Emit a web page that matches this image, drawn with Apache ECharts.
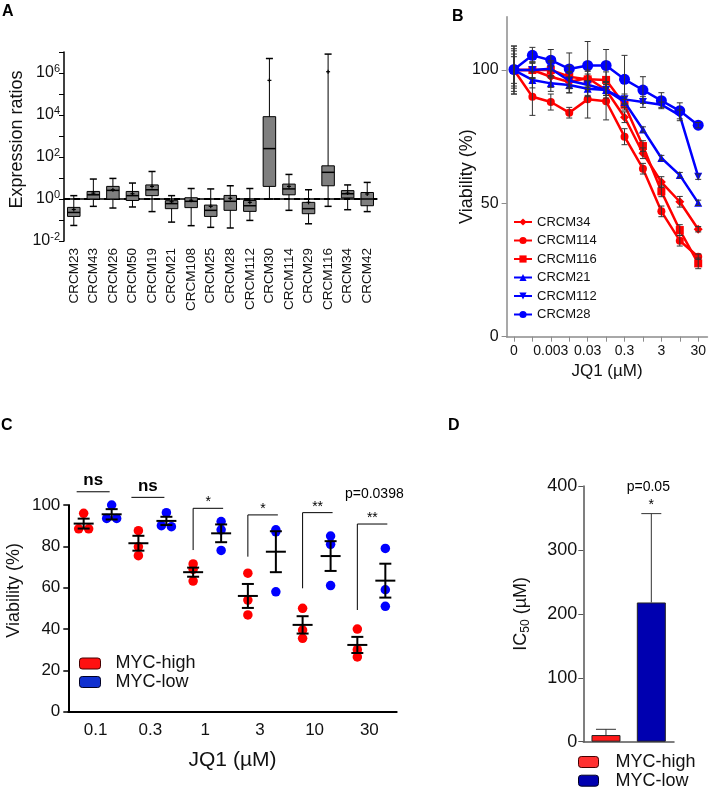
<!DOCTYPE html>
<html><head><meta charset="utf-8">
<script src="https://cdn.jsdelivr.net/npm/echarts@6/dist/echarts.min.js"></script>
<style>html,body{margin:0;padding:0;background:#fff}#c{width:709px;height:787px}</style>
</head><body><div id="c"></div>
<script>
// ---------------- Panel A: expression ratios (log10 units) ----------------
const cellLinesA = ['CRCM23','CRCM43','CRCM26','CRCM50','CRCM19','CRCM21','CRCM108','CRCM25','CRCM28','CRCM112','CRCM30','CRCM114','CRCM29','CRCM116','CRCM34','CRCM42'];
const log10WhiskerLow  = [-1.26,-0.35,-0.43,-0.38,-0.60,-1.10,-1.27,-1.35,-1.38,-1.02, 0.00,-0.54,-1.18,-0.35,-0.51,-0.60];
const log10Q1          = [-0.83, 0.00, 0.00,-0.07, 0.16,-0.46,-0.41,-0.83,-0.54,-0.59, 0.60, 0.20,-0.70, 0.63, 0.05,-0.32];
const log10Median      = [-0.64, 0.20, 0.41, 0.16, 0.44,-0.22,-0.11,-0.54,-0.11,-0.32, 2.40, 0.48,-0.46, 1.27, 0.25, 0.00];
const log10Q3          = [-0.40, 0.36, 0.60, 0.36, 0.67,-0.08, 0.06,-0.29, 0.17,-0.07, 3.92, 0.71,-0.16, 1.58, 0.40, 0.31];
const log10WhiskerHigh = [ 0.16, 0.95, 0.98, 0.76, 1.31, 0.16, 0.50, 0.48, 0.63, 0.50, 6.69, 1.17, 0.44, 6.90, 0.67, 0.79];
const log10Mean        = [-0.50, 0.28, 0.44, 0.25, 0.60,-0.13,-0.06,-0.35, 0.03,-0.16, 5.65, 0.60,-0.16, 6.06, 0.28, 0.24];
const referenceLog10 = 0; // ratio = 1

// ---------------- Panel B: viability curves ----------------
const dosesB = ['0','0.001','0.003','0.01','0.03','0.1','0.3','1','3','10','30'];
const labeledDosesB = ['0','0.003','0.03','0.3','3','30'];
const namesB = ['CRCM34','CRCM114','CRCM116','CRCM21','CRCM112','CRCM28'];
const viabCRCM34  = [100, 100, 97.5, 95.5, 97.0, 92.5, 82.3, 68.8, 58.0, 50.6, 40.3];
const viabCRCM114 = [100, 90.0, 88.0, 84.0, 89.0, 88.3, 75.0, 63.0, 47.0, 36.0, 30.0];
const viabCRCM116 = [100, 100, 100, 97.5, 96.5, 96.3, 87.0, 71.5, 54.5, 40.0, 27.5];
const viabCRCM21  = [100, 96.3, 95.0, 94.4, 93.0, 92.5, 88.0, 77.7, 67.0, 60.6, 50.2];
const viabCRCM112 = [100, 100, 100.5, 96.0, 94.5, 92.5, 89.0, 88.0, 87.0, 83.0, 60.0];
const viabCRCM28  = [100.2, 105.5, 103.7, 100.4, 101.7, 101.7, 96.5, 92.5, 88.5, 84.7, 79.3];
const errCRCM34  = [6, 3, 4, 4, 3, 3, 2, 2, 2, 2, 1];
const errCRCM114 = [9, 7, 3, 2, 7, 7, 3, 2, 2, 2, 1];
const errCRCM116 = [5, 3, 3, 4, 3, 3, 2, 2, 2, 2, 2];
const errCRCM21  = [8, 3, 3, 3, 3, 2, 2, 1, 1, 1, 1];
const errCRCM112 = [9, 3, 3, 3, 4, 2, 2, 2, 1, 2, 1];
const errCRCM28  = [7, 3, 4, 6, 9, 6, 9, 5, 3, 3, 1];

// ---------------- Panel C: viability by MYC group ----------------
const dosesC = ['0.1','0.3','1','3','10','30'];
const mycHighDots = [[96, 88.5, 88.5],[87.6, 79.8, 75.5],[71.5, 68.9, 63.2],[67, 54, 46.8],[50, 39.5, 35.5],[40, 30, 26.5]];
const mycLowDots  = [[100, 93.5, 93.5],[96.3, 90, 89.5],[92, 88, 78],[88, 87, 58],[85, 81, 61],[79, 59, 51]];
const mycHighMean = [91, 81.5, 67.5, 56, 42, 32.3];
const mycHighSem  = [2.4, 3.6, 2.2, 5.8, 4.2, 3.9];
const mycLowMean  = [95.5, 92.3, 86.3, 77.4, 75.3, 63.4];
const mycLowSem   = [2.5, 2.0, 4.3, 9.9, 7.2, 8.2];
const sigLabelsC  = ['ns','ns','*','*','**','**'];
const sigTopC     = [106.4, 103.7, 98.4, 95.2, 96.3, 90.8];
const sigBottomC  = [null, null, 78.2, 75.0, 59.7, 49.2];
const pNoteC = 'p=0.0398';

// ---------------- Panel D: IC50 ----------------
const groupsD = ['MYC-high','MYC-low'];
const ic50Mean = [10.4, 217.8];
const ic50Err  = [9.0, 139.0];
const pNoteD = 'p=0.05';

const FONT = '"Liberation Sans", Arial, Helvetica, sans-serif';
const RED = '#ff0000', BLUE = '#0000ff';

function renderBox(params, api) {
  const i = api.value(0);
  const lo = api.coord([i, api.value(1)]);
  const q1 = api.coord([i, api.value(2)]);
  const md = api.coord([i, api.value(3)]);
  const q3 = api.coord([i, api.value(4)]);
  const hi = api.coord([i, api.value(5)]);
  const mn = api.coord([i, api.value(6)]);
  const band = api.size([1, 0])[0];
  const bw = band * 0.64, cw = band * 0.36, x = lo[0];
  const s = {stroke:'#000', lineWidth:1};
  const s2 = {stroke:'#000', lineWidth:1.5};
  return {type:'group', children:[
    {type:'line', shape:{x1:x, y1:hi[1], x2:x, y2:lo[1]}, style:s},
    {type:'line', shape:{x1:x-cw/2, y1:hi[1], x2:x+cw/2, y2:hi[1]}, style:s2},
    {type:'line', shape:{x1:x-cw/2, y1:lo[1], x2:x+cw/2, y2:lo[1]}, style:s2},
    {type:'rect', shape:{x:x-bw/2, y:q3[1], width:bw, height:q1[1]-q3[1]}, style:{fill:'#7f7f7f', stroke:'#000', lineWidth:1}},
    {type:'line', shape:{x1:x-bw/2, y1:md[1], x2:x+bw/2, y2:md[1]}, style:s2},
    {type:'line', shape:{x1:x-2, y1:mn[1], x2:x+2, y2:mn[1]}, style:{stroke:'#000', lineWidth:1.2}},
    {type:'line', shape:{x1:x, y1:mn[1]-2, x2:x, y2:mn[1]+2}, style:{stroke:'#000', lineWidth:1.2}}
  ]};
}
function renderRefLine(params, api) {
  const cs = params.coordSys;
  const y = api.coord([0, api.value(1)])[1];
  return {type:'line', shape:{x1:cs.x, y1:y, x2:cs.x+cs.width, y2:y},
    style:{stroke:'#000', lineWidth:2, lineDash:[6,4]}};
}
function renderErrB(params, api) {
  const x = api.value(0), v = api.value(1), e = api.value(2);
  const t = api.coord([x, v+e]), b = api.coord([x, v-e]);
  const s = {stroke:'#333', lineWidth:1};
  return {type:'group', children:[
    {type:'line', shape:{x1:t[0], y1:t[1], x2:b[0], y2:b[1]}, style:s},
    {type:'line', shape:{x1:t[0]-3, y1:t[1], x2:t[0]+3, y2:t[1]}, style:s},
    {type:'line', shape:{x1:b[0]-3, y1:b[1], x2:b[0]+3, y2:b[1]}, style:s}
  ]};
}
function makeMeanSem(off) {
  return function(params, api) {
    const i = api.value(0), m = api.value(1), e = api.value(2);
    const c = api.coord([i, m]), t = api.coord([i, m+e]), b = api.coord([i, m-e]);
    const x = c[0] + off;
    const s = {stroke:'#000', lineWidth:2};
    return {type:'group', children:[
      {type:'line', shape:{x1:x-10, y1:c[1], x2:x+10, y2:c[1]}, style:s},
      {type:'line', shape:{x1:x, y1:t[1], x2:x, y2:b[1]}, style:s},
      {type:'line', shape:{x1:x-6, y1:t[1], x2:x+6, y2:t[1]}, style:s},
      {type:'line', shape:{x1:x-6, y1:b[1], x2:x+6, y2:b[1]}, style:s}
    ]};
  };
}
function renderSig(params, api) {
  const k = params.dataIndex;
  const i = api.value(0);
  const top = api.coord([i, api.value(1)]);
  const cx = top[0];
  const ch = [];
  const lab = sigLabelsC[k];
  if (sigBottomC[k] == null) {
    const x1 = cx - 19, x2 = cx + 14;
    ch.push({type:'line', shape:{x1:x1, y1:top[1], x2:x2, y2:top[1]}, style:{stroke:'#000', lineWidth:1}});
    ch.push({type:'text', style:{text:lab, x:(x1+x2)/2, y:top[1]-3, align:'center', verticalAlign:'bottom',
      font:'bold 17px ' + FONT, fill:'#000'}});
  } else {
    const bot = api.coord([i, sigBottomC[k]]);
    const x1 = cx - 12, x2 = cx + 18;
    ch.push({type:'polyline', shape:{points:[[x1, bot[1]],[x1, top[1]],[x2, top[1]]]}, style:{stroke:'#000', lineWidth:1, fill:null}});
    ch.push({type:'text', style:{text:lab, x:(x1+x2)/2, y:top[1]+1, align:'center', verticalAlign:'bottom',
      font:'14px ' + FONT, fill:'#000'}});
    if (k === sigLabelsC.length - 1) {
      ch.push({type:'text', style:{text:pNoteC, x:cx+5, y:top[1]-30, align:'center', verticalAlign:'middle',
        font:'14px ' + FONT, fill:'#000'}});
    }
  }
  return {type:'group', children:ch};
}
function renderErrD(params, api) {
  const i = api.value(0), m = api.value(1), e = api.value(2);
  const b = api.coord([i, m]), t = api.coord([i, m+e]);
  const s = {stroke:'#333', lineWidth:1};
  const ch = [
    {type:'line', shape:{x1:b[0], y1:b[1], x2:t[0], y2:t[1]}, style:s},
    {type:'line', shape:{x1:t[0]-10, y1:t[1], x2:t[0]+10, y2:t[1]}, style:s}
  ];
  if (params.dataIndex === 1) {
    ch.push({type:'text', style:{text:'*', x:t[0], y:t[1]-1, align:'center', verticalAlign:'bottom', font:'14px '+FONT, fill:'#000'}});
    ch.push({type:'text', style:{text:pNoteD, x:t[0]-3, y:t[1]-26, align:'center', verticalAlign:'middle', font:'14px '+FONT, fill:'#000'}});
  }
  return {type:'group', children:ch};
}

function dotsData(groups) {
  const out = [];
  groups.forEach((vals, i) => {
    vals.forEach((v, j) => {
      let dodge = 0;
      vals.forEach((w, k) => { if (k !== j && Math.abs(w - v) < 1) dodge = (j < k) ? -5 : 5; });
      out.push({value:[i, v], dodge: dodge});
    });
  });
  return out;
}
function withOffset(items, base) {
  return items.map(d => ({value:d.value, symbolOffset:[base + d.dodge, 0]}));
}

const bSeriesVals = [viabCRCM34, viabCRCM114, viabCRCM116, viabCRCM21, viabCRCM112, viabCRCM28];
const bSeriesErr  = [errCRCM34, errCRCM114, errCRCM116, errCRCM21, errCRCM112, errCRCM28];
const bColors  = [RED, RED, RED, BLUE, BLUE, BLUE];
const bSymbols = ['diamond','circle','rect','triangle','path://M0,0 L10,0 L5,9 Z','circle'];
const bSizes   = [9, 8, 8, 8, 8, 11];

const lineSeries = namesB.map((n, k) => ({
  name:n, type:'line', xAxisIndex:1, yAxisIndex:1,
  data: bSeriesVals[k].map((v, i) => [i, v]),
  symbol: bSymbols[k], symbolSize: bSizes[k], showAllSymbol:true,
  lineStyle:{color:bColors[k], width:2.5}, itemStyle:{color:bColors[k]}, z: 3 + k
}));
const errBData = [];
bSeriesVals.forEach((vals, k) => vals.forEach((v, i) => errBData.push([i, v, bSeriesErr[k][i]])));

const chart = echarts.init(document.getElementById('c'));
const axisTxt = (size) => ({fontSize:size, color:'#111', fontFamily:FONT});

const option = {
  animation:false,
  textStyle:{fontFamily:FONT},
  grid:[
    {left:64, top:52, width:313, height:189},
    {left:506.6, top:16.7, width:202, height:320},
    {left:68.3, top:505, width:328.4, height:206.7},
    {left:583.3, top:486, width:90.7, height:255.7}
  ],
  xAxis:[
    {gridIndex:0, type:'category', data:cellLinesA, boundaryGap:true,
     axisLine:{lineStyle:{color:'#000', width:1.5}},
     axisTick:{alignWithLabel:true, length:4, lineStyle:{color:'#000'}},
     axisLabel:Object.assign({rotate:90, margin:7, interval:0}, axisTxt(13.5))},
    {gridIndex:1, type:'value', min:-0.4, max:10.5,
     axisLine:{show:true, onZero:false, lineStyle:{color:'#8c8c8c', width:1.5}},
     axisTick:{show:true, customValues:dosesB.map((d, i) => i), length:5, lineStyle:{color:'#8c8c8c'}},
     axisLabel:Object.assign({customValues:dosesB.map((d, i) => i).filter(i => labeledDosesB.includes(dosesB[i])),
       formatter:(v) => dosesB[Math.round(v)], margin:7}, axisTxt(14)),
     splitLine:{show:false},
     name:'JQ1 (µM)', nameLocation:'middle', nameGap:26, nameMoveOverlap:false, nameTextStyle:axisTxt(17)},
    {gridIndex:2, type:'category', data:dosesC, boundaryGap:true,
     axisLine:{lineStyle:{color:'#000', width:2}},
     axisTick:{alignWithLabel:true, length:5, lineStyle:{color:'#000', width:1.5}},
     axisLabel:Object.assign({margin:10}, axisTxt(17)),
     name:'JQ1 (µM)', nameLocation:'middle', nameGap:38, nameMoveOverlap:false, nameTextStyle:axisTxt(21)},
    {gridIndex:3, type:'category', data:groupsD, boundaryGap:true,
     axisLine:{lineStyle:{color:'#555', width:1.5}},
     axisTick:{alignWithLabel:true, length:5, lineStyle:{color:'#555'}},
     axisLabel:{show:false}}
  ],
  yAxis:[
    {gridIndex:0, type:'value', min:-2, max:7, interval:1,
     axisLine:{show:true, lineStyle:{color:'#000', width:1.5}},
     axisTick:{show:true, length:5, lineStyle:{color:'#000'}},
     splitLine:{show:false},
     axisLabel:{margin:4, fontSize:16, color:'#111', fontFamily:FONT,
       formatter:(v) => (v % 2 === 0) ? '10{s|' + v + '}' : '',
       rich:{s:{fontSize:11, padding:[0,0,9,0], color:'#111', fontFamily:FONT}}},
     name:'Expression ratios', nameLocation:'middle', nameGap:38, nameMoveOverlap:false,
     nameTextStyle:Object.assign({padding:[0,0,0,14]}, axisTxt(18))},
    {gridIndex:1, type:'value', min:0, max:120,
     axisLine:{show:true, onZero:false, lineStyle:{color:'#8c8c8c', width:1.5}},
     axisTick:{show:true, customValues:[0,50,100], length:5, lineStyle:{color:'#8c8c8c'}},
     axisLabel:Object.assign({customValues:[0,50,100], margin:8}, axisTxt(16)),
     splitLine:{show:false},
     name:'Viability (%)', nameLocation:'middle', nameGap:31, nameMoveOverlap:false, nameTextStyle:axisTxt(18)},
    {gridIndex:2, type:'value', min:0, max:100, interval:20,
     axisLine:{show:true, lineStyle:{color:'#000', width:2}},
     axisTick:{show:true, length:5, lineStyle:{color:'#000', width:1.5}},
     axisLabel:Object.assign({margin:8}, axisTxt(17)),
     splitLine:{show:false},
     name:'Viability (%)', nameLocation:'middle', nameGap:45, nameMoveOverlap:false,
     nameTextStyle:Object.assign({padding:[0,0,0,36]}, axisTxt(18))},
    {gridIndex:3, type:'value', min:0, max:400, interval:100,
     axisLine:{show:true, lineStyle:{color:'#555', width:1.5}},
     axisTick:{show:true, length:5, lineStyle:{color:'#555'}},
     axisLabel:Object.assign({margin:6}, axisTxt(18)),
     splitLine:{show:false},
     name:'{a|IC}{s|50}{a| (µM)}', nameLocation:'middle', nameGap:52, nameMoveOverlap:false,
     nameTextStyle:{fontSize:18, color:'#111', fontFamily:FONT,
       rich:{a:{fontSize:18, color:'#111', fontFamily:FONT}, s:{fontSize:12, padding:[8,0,0,0], color:'#111', fontFamily:FONT}}}}
  ],
  legend:[
    {data:namesB, orient:'vertical', left:513, top:215, padding:0, itemWidth:18, itemHeight:9, itemGap:4.5,
     textStyle:{fontSize:13, lineHeight:14, color:'#111', fontFamily:FONT}, selectedMode:false},
    {data:[{name:'MYC-high', icon:'roundRect', itemStyle:{color:'#ff1010', borderColor:'#400', borderWidth:1}},
           {name:'MYC-low', icon:'roundRect', itemStyle:{color:'#1030d0', borderColor:'#002', borderWidth:1}}],
     orient:'vertical', left:79, top:654.5, height:40, padding:0, itemWidth:21, itemHeight:11, itemGap:0.5,
     textStyle:{fontSize:18, lineHeight:14, color:'#111', fontFamily:FONT, padding:[0,0,0,10]}, selectedMode:false},
    {data:[{name:'MYC-high', icon:'roundRect', itemStyle:{color:'#ff3030', borderColor:'#400', borderWidth:1}},
           {name:'MYC-low', icon:'roundRect', itemStyle:{color:'#0000b0', borderColor:'#002', borderWidth:1}}],
     orient:'vertical', left:578, top:753, height:40, padding:0, itemWidth:20, itemHeight:11, itemGap:0.7,
     textStyle:{fontSize:18, lineHeight:16, color:'#111', fontFamily:FONT, padding:[0,0,0,12]}, selectedMode:false}
  ],
  graphic:[
    {type:'text', left:2, top:4, style:{text:'A', font:'bold 16px ' + FONT, fill:'#000'}},
    {type:'text', left:452, top:9, style:{text:'B', font:'bold 16px ' + FONT, fill:'#000'}},
    {type:'text', left:1, top:418, style:{text:'C', font:'bold 16px ' + FONT, fill:'#000'}},
    {type:'text', left:448, top:418, style:{text:'D', font:'bold 16px ' + FONT, fill:'#000'}}
  ],
  series:[
    {type:'custom', xAxisIndex:0, yAxisIndex:0, renderItem:renderRefLine, data:[[0, referenceLog10]], z:1, silent:true},
    {type:'custom', xAxisIndex:0, yAxisIndex:0, renderItem:renderBox, z:2, silent:true,
     encode:{x:0, y:[1,2,3,4,5,6]},
     data:cellLinesA.map((c, i) => [i, log10WhiskerLow[i], log10Q1[i], log10Median[i], log10Q3[i], log10WhiskerHigh[i], log10Mean[i]])},
    ...lineSeries,
    {type:'custom', xAxisIndex:1, yAxisIndex:1, renderItem:renderErrB, data:errBData, z:10, silent:true, encode:{x:0, y:1}},
    {name:'MYC-high', type:'scatter', xAxisIndex:2, yAxisIndex:2, symbolSize:9.5, itemStyle:{color:RED, opacity:1}, z:3,
     data:withOffset(dotsData(mycHighDots), -12)},
    {name:'MYC-low', type:'scatter', xAxisIndex:2, yAxisIndex:2, symbolSize:9.5, itemStyle:{color:BLUE, opacity:1}, z:3,
     data:withOffset(dotsData(mycLowDots), 16)},
    {type:'custom', xAxisIndex:2, yAxisIndex:2, renderItem:makeMeanSem(-12), z:5, silent:true, encode:{x:0, y:1},
     data:mycHighMean.map((m, i) => [i, m, mycHighSem[i]])},
    {type:'custom', xAxisIndex:2, yAxisIndex:2, renderItem:makeMeanSem(16), z:5, silent:true, encode:{x:0, y:1},
     data:mycLowMean.map((m, i) => [i, m, mycLowSem[i]])},
    {type:'custom', xAxisIndex:2, yAxisIndex:2, renderItem:renderSig, z:5, silent:true, encode:{x:0, y:1},
     data:sigTopC.map((t, i) => [i, t])},
    {name:'MYC-high', type:'bar', xAxisIndex:3, yAxisIndex:3, barWidth:29, barGap:'-100%',
     itemStyle:{color:'#ff1a1a', borderColor:'#222', borderWidth:1}, data:[ic50Mean[0], '-']},
    {name:'MYC-low', type:'bar', xAxisIndex:3, yAxisIndex:3, barWidth:29, barGap:'-100%',
     itemStyle:{color:'#0000b0', borderColor:'#222', borderWidth:1}, data:['-', ic50Mean[1]]},
    {type:'custom', xAxisIndex:3, yAxisIndex:3, renderItem:renderErrD, z:5, silent:true, encode:{x:0, y:1},
     data:ic50Mean.map((m, i) => [i, m, ic50Err[i]])}
  ]
};
chart.setOption(option);
</script></body></html>
